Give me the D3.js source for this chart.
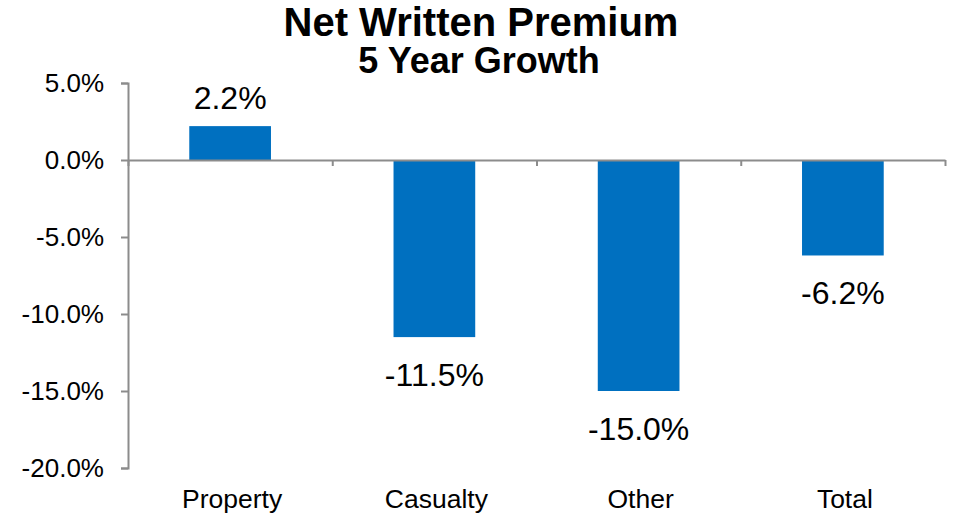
<!DOCTYPE html>
<html>
<head>
<meta charset="utf-8">
<script src="https://cdn.jsdelivr.net/npm/d3@7"></script>
<style>
  html, body { margin: 0; padding: 0; background: #fff; }
  svg { display: block; }
  text { font-family: "Liberation Sans", Arial, sans-serif; fill: #000; }
</style>
</head>
<body>
<svg id="chart" width="953" height="516"></svg>
<script>
// Net written premium, five-year growth by line of business
const categories = ["Property", "Casualty", "Other", "Total"];
const growth = [2.2, -11.5, -15.0, -6.2];
const yTicks = [5, 0, -5, -10, -15, -20];
const titleText = "Net Written Premium";
const subtitleText = "5 Year Growth";

const plot = { left: 128, right: 945, top: 83, bottom: 468 };
const axisColor = "#8c8c8c";
const barColor = "#0070C0";

// percent format with a plain hyphen for negatives
const locale = d3.formatLocale({ decimal: ".", thousands: ",", grouping: [3], currency: ["", ""], minus: "-" });
const fmt = locale.format(".1f");
const pct = d => fmt(d) + "%";

const svg = d3.select("#chart");

const x = d3.scaleBand()
  .domain(categories)
  .range([plot.left, plot.right])
  .paddingInner(0.6)
  .paddingOuter(0.3);

const y = d3.scaleLinear().domain([-20, 5]).range([plot.bottom, plot.top]);

function label(g, str, px, py, size, anchor, weight) {
  return g.append("text")
    .attr("x", px)
    .attr("y", py)
    .attr("text-anchor", anchor)
    .style("font-size", size + "px")
    .style("font-weight", weight || "normal")
    .text(str);
}

// bars
svg.append("g").selectAll("rect")
  .data(growth)
  .join("rect")
  .attr("x", (d, i) => x(categories[i]))
  .attr("width", x.bandwidth())
  .attr("y", d => y(Math.max(0, d)))
  .attr("height", d => Math.abs(y(d) - y(0)))
  .attr("fill", barColor);

// y axis
const yAxis = svg.append("g")
  .attr("transform", `translate(${plot.left},0)`)
  .call(d3.axisLeft(y).tickValues(yTicks).tickSize(7).tickSizeOuter(7).tickFormat(""));
yAxis.select(".domain").attr("stroke", axisColor).attr("stroke-width", 2);
yAxis.selectAll(".tick line").attr("stroke", axisColor).attr("stroke-width", 2);

const yLab = svg.append("g");
yTicks.forEach(t => label(yLab, pct(t), 104, y(t) + 9, 26, "end"));

// category baseline at zero with boundary ticks
const edges = d3.scaleLinear().domain([0, categories.length]).range([plot.left, plot.right]);
const xAxis = svg.append("g")
  .attr("transform", `translate(0,${y(0)})`)
  .call(d3.axisBottom(edges).tickValues(d3.range(categories.length + 1)).tickSize(6).tickSizeOuter(0).tickFormat(""));
xAxis.select(".domain").attr("stroke", axisColor).attr("stroke-width", 2);
xAxis.selectAll(".tick line").attr("stroke", axisColor).attr("stroke-width", 2);

// category names along the bottom
const cLab = svg.append("g");
categories.forEach(c => label(cLab, c, x(c) + x.bandwidth() / 2 + 2, 508, 26.5, "middle"));

// value labels
const vLab = svg.append("g");
growth.forEach((d, i) => {
  const cx = x(categories[i]) + x.bandwidth() / 2;
  const py = d >= 0 ? y(d) - 17 : y(d) + 49;
  label(vLab, pct(d), cx, py, 32, "middle");
});

// titles
const tg = svg.append("g");
label(tg, titleText, 481, 36, 40, "middle", "bold");
label(tg, subtitleText, 479, 73, 36, "middle", "bold");
</script>
</body>
</html>
